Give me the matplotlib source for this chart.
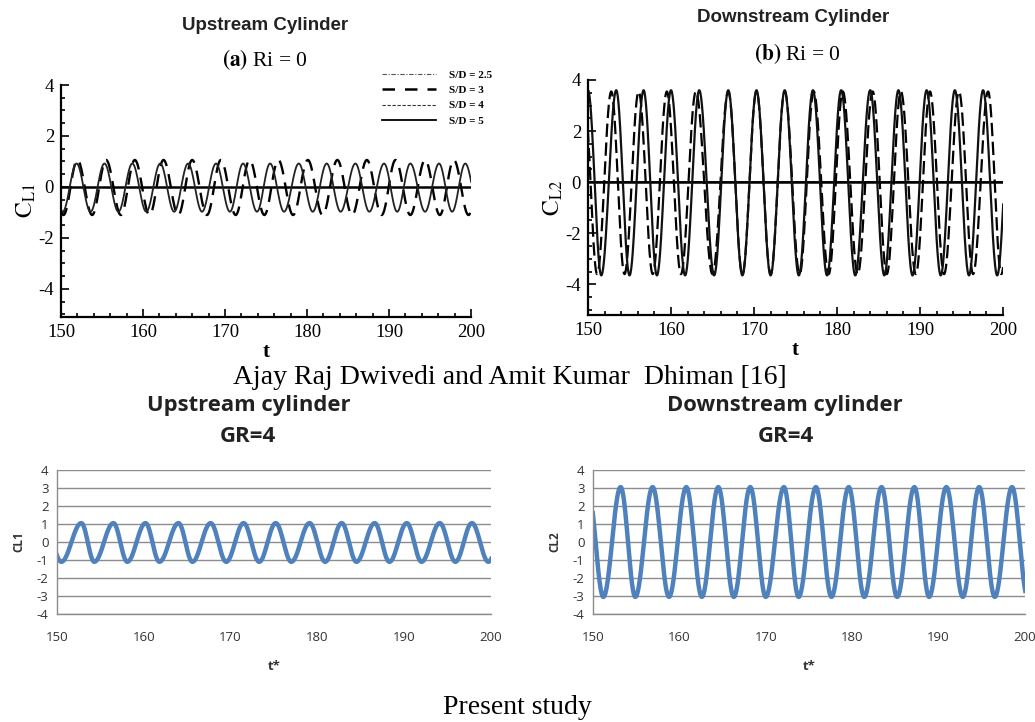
import numpy as np
import matplotlib
matplotlib.use('Agg')
import matplotlib.pyplot as plt
from matplotlib.lines import Line2D
from matplotlib.ticker import MultipleLocator

plt.rcParams['mathtext.fontset'] = 'stix'
plt.rcParams['axes.unicode_minus'] = False

# ---- data (extrema times / values) ----
# (a) upstream cylinder, Ri = 0
up_sd5_times = [148.5, 150.2, 151.9, 153.6, 155.3, 157.0, 158.7, 160.4, 162.1, 163.8, 165.5,
                167.2, 168.9, 170.6, 172.2, 173.9, 175.5, 177.2, 179.0, 180.7, 182.4,
                184.1, 185.9, 187.6, 189.4, 191.0, 192.6, 194.4, 196.1, 197.7, 199.3, 201.0]
up_sd5_vals = [0.92, -0.97] * 16
up_sd3_times = [148.6, 150.3, 152.0, 153.8, 155.5, 157.3, 159.0, 160.8, 162.5, 164.3, 166.0,
                167.8, 169.5, 171.3, 173.0, 174.8, 176.5, 178.3, 180.1, 181.9, 183.7,
                185.5, 187.3, 189.1, 190.8, 192.6, 194.4, 196.2, 197.9, 199.7, 201.4]
up_sd3_vals = [1.06, -1.1] * 15 + [1.06]

# (b) downstream cylinder, Ri = 0
dn_solid_times = [150.0, 151.6, 153.4, 155.0, 156.7, 158.3, 160.0, 161.7, 163.4, 165.2, 166.9,
                  168.6, 170.3, 172.0, 173.7, 175.4, 177.1, 178.8, 180.5, 182.2, 184.0,
                  185.7, 187.4, 189.1, 190.8, 192.5, 194.2, 195.9, 197.6, 199.3, 201.0]
dn_solid_vals = [3.6, -3.65] * 15 + [3.6]
dn_dash_times = [149.5, 151.1, 152.8, 154.4, 156.1, 157.8, 159.5, 161.2, 163.0, 165.0, 166.9,
                 168.6, 170.3, 172.0, 173.7, 175.5, 177.2, 179.0, 180.7, 182.5, 184.3,
                 186.0, 187.7, 189.5, 191.2, 192.9, 194.7, 196.4, 198.2, 199.8, 201.5]
dn_dash_vals = [3.55, -3.6] * 15 + [3.55]

# present study, GR = 4
ps_up_times = [148.6, 150.5, 152.8, 154.3, 156.5, 158.1, 160.2, 161.8, 164.0, 165.6, 167.7,
               169.5, 171.5, 173.3, 175.2, 177.0, 179.1, 180.9, 182.8, 184.5, 186.6,
               188.3, 190.3, 192.0, 194.1, 195.9, 197.8, 199.7, 201.5]
ps_up_vals = [1.05, -1.1] * 14 + [1.05]
ps_dn_times = [149.4, 151.2, 153.2, 154.9, 156.9, 158.8, 160.8, 162.6, 164.5, 166.3, 168.2,
               170.0, 172.1, 173.8, 175.8, 177.6, 179.6, 181.4, 183.4, 185.2, 187.2,
               188.9, 190.9, 192.8, 194.7, 196.5, 198.5, 200.3]
ps_dn_vals = [3.05, -3.05] * 14

legend_labels = ['S/D = 2.5', 'S/D = 3', 'S/D = 4', 'S/D = 5']


def trace(times, vals, n=40):
    # smooth half-wave between successive extrema
    tt, cc = [], []
    for i in range(len(times) - 1):
        s = np.linspace(0, 1, n, endpoint=False)
        tt.append(times[i] + (times[i + 1] - times[i]) * s)
        cc.append(vals[i] + (vals[i + 1] - vals[i]) * (1 - np.cos(np.pi * s)) / 2)
    tt.append([times[-1]])
    cc.append([vals[-1]])
    return np.concatenate(tt), np.concatenate(cc)


W, H = 1035, 722
fig = plt.figure(figsize=(W / 100, H / 100), dpi=100)


def box(x0, x1, ytop, ybot):
    return [x0 / W, 1 - ybot / H, (x1 - x0) / W, (ybot - ytop) / H]


def ftext(x, y, s, **kw):
    fig.text(x / W, 1 - y / H, s, ha='center', va='center', **kw)


serif = 'Liberation Serif'


def style_top(ax, ymin):
    ax.set_xlim(150, 200)
    ax.set_ylim(ymin, 4)
    for sp in ['top', 'right']:
        ax.spines[sp].set_visible(False)
    for sp in ['left', 'bottom']:
        ax.spines[sp].set_linewidth(1.6)
    ax.xaxis.set_major_locator(MultipleLocator(10))
    ax.xaxis.set_minor_locator(MultipleLocator(2))
    ax.yaxis.set_major_locator(MultipleLocator(2))
    ax.yaxis.set_minor_locator(MultipleLocator(0.5))
    ax.tick_params(which='both', direction='in', width=1.2, labelsize=13.5, pad=5)
    ax.tick_params(which='major', length=6)
    ax.tick_params(which='minor', length=3)
    for lab in ax.get_xticklabels() + ax.get_yticklabels():
        lab.set_fontfamily(serif)
    ax.axhline(0, color='black', lw=1.8, zorder=1)
    ax.set_xlabel('t', fontfamily=serif, fontweight='bold', fontsize=15, labelpad=1)


# ---- top left ----
ax1 = fig.add_axes(box(61, 471, 85, 317))
style_top(ax1, -5.1)
t, c = trace(up_sd3_times, up_sd3_vals)
ax1.plot(t, c, color='black', lw=1.7, dashes=(6, 3.5))
t, c = trace(up_sd5_times, up_sd5_vals)
ax1.plot(t, c, color='#222222', lw=1.3)
ax1.set_ylabel(r'$\mathrm{C}_{\mathrm{L1}}$', fontsize=17, labelpad=0)
handles = [Line2D([], [], color='#555555', lw=0.8, dashes=(4, 1.5, 1, 1.5)),
           Line2D([], [], color='black', lw=1.8, dashes=(5, 4)),
           Line2D([], [], color='#333333', lw=0.8, dashes=(3, 1.5)),
           Line2D([], [], color='black', lw=1.3)]
ax1.legend(handles, legend_labels, loc='upper right', bbox_to_anchor=(502 / W, 1 - 60 / H),
           bbox_transform=fig.transFigure, frameon=False, handlelength=4.8, labelspacing=0.5,
           handletextpad=1.2, prop={'family': serif, 'weight': 'bold', 'size': 8})
ftext(265, 25, 'Upstream Cylinder', fontfamily='Liberation Sans', fontweight='bold',
      fontsize=13.5, color='#222222')
ftext(265, 60, r'$\mathbf{(a)}$ Ri = 0', fontfamily=serif, fontsize=15.5)

# ---- top right ----
ax2 = fig.add_axes(box(588, 1003, 80, 315))
style_top(ax2, -5.2)
ax2.axhline(0, color='black', lw=1.2, zorder=1)
t, c = trace(dn_dash_times, dn_dash_vals)
ax2.plot(t, c, color='black', lw=1.6, dashes=(6, 2.5))
t, c = trace(dn_solid_times, dn_solid_vals)
ax2.plot(t, c, color='#111111', lw=1.6)
ax2.set_ylabel(r'$\mathrm{C}_{\mathrm{L2}}$', fontsize=17, labelpad=0)
ftext(793, 18, 'Downstream Cylinder', fontfamily='Liberation Sans', fontweight='bold',
      fontsize=13.5, color='#222222')
ftext(797, 54, r'$\mathbf{(b)}$ Ri = 0', fontfamily=serif, fontsize=15.5)

ftext(510, 377, 'Ajay Raj Dwivedi and Amit Kumar  Dhiman [16]', fontfamily=serif, fontsize=20)


# ---- bottom (present study) ----
def style_bottom(ax, ylab):
    ax.set_xlim(150, 200)
    ax.set_ylim(-4, 4)
    ax.set_yticks(range(-4, 5))
    ax.set_xticks(range(150, 201, 10))
    ax.grid(axis='y', color='#8c8c8c', lw=1.0)
    ax.set_axisbelow(True)
    for sp in ['top', 'right']:
        ax.spines[sp].set_visible(False)
    for sp in ['left', 'bottom']:
        ax.spines[sp].set_color('#8c8c8c')
        ax.spines[sp].set_linewidth(1.0)
    ax.tick_params(length=0, labelsize=9.5, colors='#333333', pad=6)
    ax.tick_params(axis='x', pad=12)
    for lab in ax.get_xticklabels() + ax.get_yticklabels():
        lab.set_fontfamily('Open Sans')
    ax.set_xlabel('t*', fontfamily='Open Sans', fontweight='bold', fontsize=9.5, labelpad=12,
                  color='#333333')
    ax.set_ylabel(ylab, fontfamily='Open Sans', fontweight='bold', fontsize=8.5, labelpad=8,
                  color='#333333')


ax3 = fig.add_axes(box(57, 491, 470, 614))
style_bottom(ax3, 'CL1')
t, c = trace(ps_up_times, ps_up_vals)
ax3.plot(t, c, color='#4f81bd', lw=3.2)
ftext(249, 405, 'Upstream cylinder', fontfamily='Open Sans', fontweight='bold', fontsize=15.8,
      color='#222222')
ftext(248, 437, 'GR=4', fontfamily='Open Sans', fontweight='bold', fontsize=16, color='#222222')

ax4 = fig.add_axes(box(593, 1025, 470, 614))
style_bottom(ax4, 'CL2')
t, c = trace(ps_dn_times, ps_dn_vals)
ax4.plot(t, c, color='#4f81bd', lw=3.2)
ftext(785, 405, 'Downstream cylinder', fontfamily='Open Sans', fontweight='bold', fontsize=15.8,
      color='#222222')
ftext(786, 437, 'GR=4', fontfamily='Open Sans', fontweight='bold', fontsize=16, color='#222222')

ftext(517, 707, 'Present study', fontfamily=serif, fontsize=20)

fig.savefig('out.png', dpi=100)
